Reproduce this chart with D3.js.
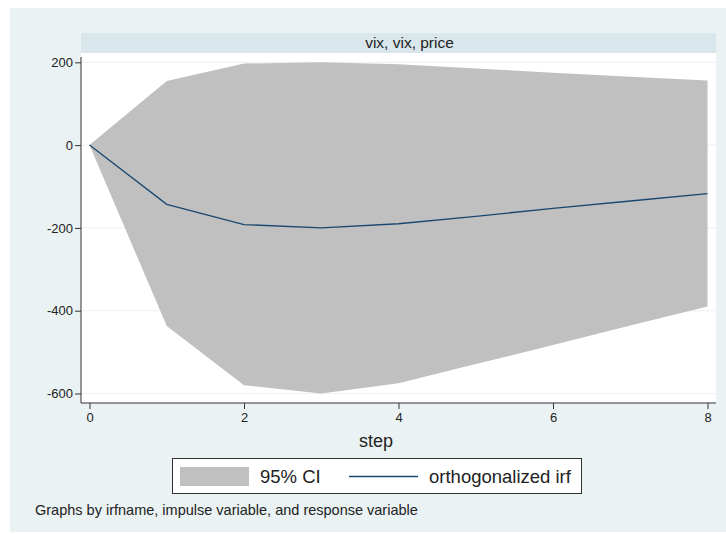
<!DOCTYPE html>
<html>
<head>
<meta charset="utf-8">
<script src="https://cdn.jsdelivr.net/npm/d3@7"></script>
<style>
  body { margin: 0; background: white; }
  text { font-family: "Liberation Sans", Arial, sans-serif; }
</style>
</head>
<body>
<div id="vis"></div>
<script>
// irf data
let steps = [0, 1, 2, 3, 4, 5, 6, 7, 8];
let irf = [0, -143, -192, -200, -190, -172, -153, -135, -117];
let upper = [0, 155, 197, 200, 195, 185, 175, 165, 156];
let lower = [0, -437, -580, -600, -575, -529, -483, -436, -390];
let yTicks = [200, 0, -200, -400, -600];
let xTicks = [0, 2, 4, 6, 8];
let title = 'vix, vix, price';
let legendLabels = ['95% CI', 'orthogonalized irf'];
let note = 'Graphs by irfname, impulse variable, and response variable';

let W = 726, H = 534;
let plot = { left: 81, right: 716, top: 53, bottom: 403 };

let svg = d3.select('#vis')
  .append('svg')
  .attr('width', W)
  .attr('height', H);

// outer graph region
svg.append('rect')
  .attr('x', 10).attr('y', 8)
  .attr('width', W - 10).attr('height', 524)
  .attr('fill', '#eaf2f3');

// strip with the title
svg.append('rect')
  .attr('x', plot.left).attr('y', 33)
  .attr('width', plot.right - plot.left).attr('height', 20)
  .attr('fill', '#d9e6eb');
svg.append('text')
  .attr('x', (plot.left + plot.right) / 2 + 11).attr('y', 48)
  .attr('text-anchor', 'middle')
  .attr('font-size', 15.5).attr('fill', '#222')
  .text(title);

// plot region
svg.append('rect')
  .attr('x', plot.left).attr('y', plot.top)
  .attr('width', plot.right - plot.left).attr('height', plot.bottom - plot.top)
  .attr('fill', 'white');

let x = d3.scaleLinear().domain([0, 8]).range([89.5, 707.5]);
let y = d3.scaleLinear().domain([-600, 200]).range([393.5, 62.3]);

// grid
svg.append('g').selectAll('line')
  .data(yTicks)
  .join('line')
  .attr('x1', plot.left).attr('x2', plot.right)
  .attr('y1', d => y(d)).attr('y2', d => y(d))
  .attr('stroke', '#eaf2f3').attr('stroke-width', 1);

let pts = steps.map((s, i) => ({ s: s, v: irf[i], lo: lower[i], hi: upper[i] }));

// CI band
svg.append('path')
  .datum(pts)
  .attr('d', d3.area().x(d => x(d.s)).y0(d => y(d.lo)).y1(d => y(d.hi)))
  .attr('fill', '#c0c0c0');

// irf line
svg.append('path')
  .datum(pts)
  .attr('d', d3.line().x(d => x(d.s)).y(d => y(d.v)))
  .attr('fill', 'none')
  .attr('stroke', '#1a476f')
  .attr('stroke-width', 1.3);

// axes
let fmt = d => String(d);
let yAxis = svg.append('g')
  .attr('transform', `translate(${plot.left},0)`)
  .call(d3.axisLeft(y).tickValues(yTicks).tickFormat(fmt).tickSize(6).tickPadding(2));
let xAxis = svg.append('g')
  .attr('transform', `translate(0,${plot.bottom})`)
  .call(d3.axisBottom(x).tickValues(xTicks).tickFormat(fmt).tickSize(6).tickPadding(4));

[yAxis, xAxis].forEach(a => {
  a.select('.domain').remove();
  a.selectAll('line').attr('stroke', '#333');
  a.selectAll('text').attr('font-size', 13).attr('fill', '#222')
    .style('font-family', '"Liberation Sans", Arial, sans-serif');
});
svg.append('line')
  .attr('x1', plot.left).attr('x2', plot.left)
  .attr('y1', plot.top + 4).attr('y2', plot.bottom)
  .attr('stroke', '#333');
svg.append('line')
  .attr('x1', plot.left).attr('x2', plot.right)
  .attr('y1', plot.bottom).attr('y2', plot.bottom)
  .attr('stroke', '#333');

// x title
svg.append('text')
  .attr('x', 376).attr('y', 447)
  .attr('text-anchor', 'middle')
  .attr('font-size', 18).attr('fill', '#222')
  .text('step');

// legend
let lg = svg.append('g');
lg.append('rect')
  .attr('x', 172.5).attr('y', 458.5)
  .attr('width', 409).attr('height', 35)
  .attr('fill', 'white').attr('stroke', '#333');
lg.append('rect')
  .attr('x', 180).attr('y', 467)
  .attr('width', 69).attr('height', 19)
  .attr('fill', '#c0c0c0');
lg.append('text')
  .attr('x', 260).attr('y', 483)
  .attr('font-size', 18.5).attr('fill', '#222')
  .text(legendLabels[0]);
lg.append('line')
  .attr('x1', 349).attr('x2', 418)
  .attr('y1', 476.5).attr('y2', 476.5)
  .attr('stroke', '#1a476f').attr('stroke-width', 1.3);
lg.append('text')
  .attr('x', 429).attr('y', 483)
  .attr('font-size', 18.5).attr('fill', '#222')
  .text(legendLabels[1]);

// note
svg.append('text')
  .attr('x', 35).attr('y', 515)
  .attr('font-size', 14.5).attr('fill', '#222')
  .text(note);
</script>
</body>
</html>
